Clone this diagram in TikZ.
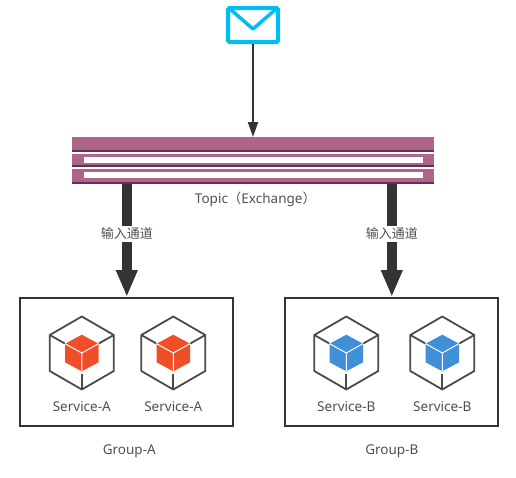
\documentclass[tikz,border=0pt]{standalone}
\usepackage{fontspec}
\setmainfont{Noto Sans}
\newfontfamily\cjk{Noto Sans CJK SC}
\usetikzlibrary{positioning, arrows.meta}

\definecolor{mailblue}{HTML}{00BEF2}
\definecolor{bandpink}{HTML}{AD6688}
\definecolor{banddark}{HTML}{6B2A5A}
\definecolor{linedark}{HTML}{333333}
\definecolor{hexgray}{HTML}{4A4A4A}
\definecolor{labelgray}{HTML}{505050}
\definecolor{cubered}{HTML}{F04E28}
\definecolor{cubeblue}{HTML}{408FD9}

\tikzset{
    pics/service/.style args={#1/#2}{code={
        % Outer hexagon
        \draw[hexline] (0,-36.5) -- (32,-18) -- (32,18) -- (0,36.5) -- (-32,18) -- (-32,-18) -- cycle;
        \draw[hexline] (-32,-18) -- (-17,-9.5);
        \draw[hexline] (32,-18) -- (17,-9.5);
        \draw[hexline] (0,36.5) -- (0,21);
        % Inner cube
        \fill[#1] (0,-18.3) -- (16.7,-9.3) -- (16.7,9.3) -- (0,18.3) -- (-16.7,9.3) -- (-16.7,-9.3) -- cycle;
        \draw[white, line width=1pt] (-16.7,-9.3) -- (0,0) -- (16.7,-9.3) (0,0) -- (0,18.3);
        \node[svclabel] (-label) at (0,54) {#2};
    }}
}

\begin{document}
\begin{tikzpicture}[
        x=1pt, y=-1pt,
        font=\fontsize{13.5}{15}\selectfont,
        % Styles
        mail/.style={draw=mailblue, fill=white, line width=4pt, rounded corners=1.5pt, minimum width=50pt, minimum height=34pt, inner sep=0pt},
        band/.style={fill=bandpink, minimum width=362pt, inner sep=0pt, outer sep=0pt},
        bandline/.style={draw=banddark, line width=2pt},
        slot/.style={fill=white, minimum width=339pt, minimum height=6.5pt, inner sep=0pt},
        groupbox/.style={draw=linedark, line width=2pt, fill=white, minimum width=213pt, minimum height=128pt},
        hexline/.style={draw=hexgray, line width=1.8pt, line join=round},
        svclabel/.style={text=labelgray},
        grouplabel/.style={text=labelgray},
        msgarrow/.style={-{Triangle[length=15pt, width=10pt]}, line width=2pt, draw=linedark},
        flowarrow/.style={-{Triangle[length=27pt, width=20pt]}, line width=10pt, draw=linedark},
        flowlabel/.style={fill=white, text=labelgray, inner sep=1pt, minimum height=16pt, font=\fontsize{13}{15}\selectfont\cjk}
    ]
    \useasboundingbox (0,0) rectangle (516,477);

    % Message
    \node[mail] (mail) at (253,25) {};
    \draw[draw=mailblue, line width=3.5pt, line join=round] ([shift={(4pt,-3pt)}]mail.north west) -- ([yshift=-4pt]mail.center) -- ([shift={(-4pt,-3pt)}]mail.north east);

    % Topic bands
    \node[band, minimum height=15pt] (bandtop) at (253,144.5) {};
    \node[band, minimum height=13pt, below=2pt of bandtop] (bandmid) {};
    \node[band, minimum height=15pt, below=2pt of bandmid] (bandlow) {};
    \foreach \b in {bandtop, bandmid, bandlow}
        \draw[bandline] ([yshift=1pt]\b.south west) -- ([yshift=1pt]\b.south east);
    \node[slot, yshift=0.7pt] (slotmid) at (bandmid) {};
    \node[slot, yshift=1.3pt] (slotlow) at (bandlow) {};
    \node[grouplabel, below=4pt of bandlow, xshift=2.5pt] (topic) {Topic{\cjk（}Exchange{\cjk）}};
    \draw[msgarrow] (mail) -- (bandtop);

    % Groups
    \node[groupbox] (groupa) at (126.8,362) {};
    \node[groupbox, right=50pt of groupa] (groupb) {};
    \node[grouplabel, below=14pt of groupa, xshift=2.5pt] (labela) {Group-A};
    \node[grouplabel, below=14pt of groupb] (labelb) {Group-B};

    % Services
    \pic (sa1) at ([shift={(-45pt,9pt)}]groupa.center) {service=cubered/Service-A};
    \pic (sa2) at ([shift={(46.5pt,9pt)}]groupa.center) {service=cubered/Service-A};
    \pic (sb1) at ([shift={(-45.5pt,9pt)}]groupb.center) {service=cubeblue/Service-B};
    \pic (sb2) at ([shift={(50.5pt,9pt)}]groupb.center) {service=cubeblue/Service-B};

    % Flow to groups
    \draw[flowarrow] (bandlow.south -| groupa.north) -- node[flowlabel, pos=0.44] (inputa) {输入通道} (groupa.north);
    \draw[flowarrow] (bandlow.south -| groupb.north) -- node[flowlabel, pos=0.44] (inputb) {输入通道} (groupb.north);

\end{tikzpicture}
\end{document}
